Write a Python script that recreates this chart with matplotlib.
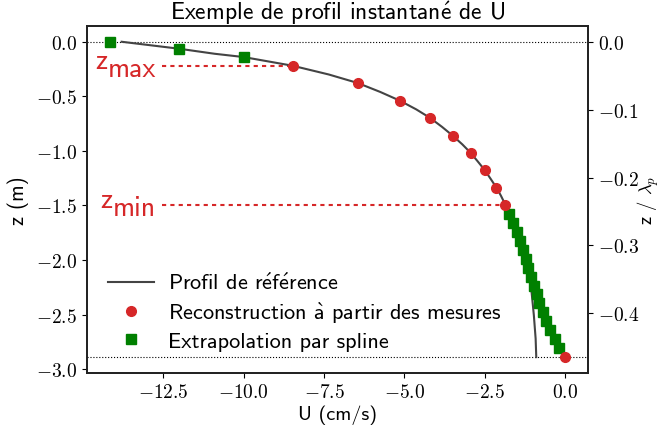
import numpy as np
import matplotlib
matplotlib.use('Agg')
import matplotlib.pyplot as plt
from matplotlib.ticker import FuncFormatter, MultipleLocator

plt.rcParams['font.family'] = ['cmss10', 'DejaVu Sans']
plt.rcParams['mathtext.fontset'] = 'cm'
plt.rcParams['axes.unicode_minus'] = True

# profil de reference
z_ref = [0.0, -0.064, -0.11, -0.14, -0.22, -0.30, -0.378, -0.46, -0.54, -0.62, -0.698,
         -0.78, -0.86, -0.94, -1.018, -1.10, -1.177, -1.26, -1.336, -1.41, -1.494,
         -1.65, -1.8, -1.95, -2.1, -2.263, -2.507, -2.72, -2.89]
u_ref = [-13.79, -12.0, -10.9, -10.0, -8.47, -7.35, -6.45, -5.75, -5.14, -4.63, -4.20,
         -3.83, -3.50, -3.20, -2.94, -2.71, -2.50, -2.31, -2.14, -2.00, -1.86,
         -1.62, -1.43, -1.29, -1.17, -1.056, -0.975, -0.92, -0.90]

# reconstruction a partir des mesures
z_rec = [-0.220, -0.378, -0.540, -0.698, -0.860, -1.018, -1.177, -1.336, -1.494, -2.891]
u_rec = [-8.47, -6.45, -5.14, -4.20, -3.50, -2.94, -2.50, -2.14, -1.86, 0.0]

# extrapolation par spline
z_spl = [0.0, -0.066, -0.143,
         -1.576, -1.658, -1.741, -1.823, -1.905, -1.987, -2.069, -2.152,
         -2.234, -2.316, -2.398, -2.480, -2.563, -2.645, -2.727, -2.809]
u_spl = [-14.16, -12.01, -9.98,
         -1.74, -1.61, -1.51, -1.41, -1.32, -1.23, -1.15, -1.07,
         -0.975, -0.89, -0.80, -0.70, -0.59, -0.46, -0.32, -0.18]

z_max = z_rec[0]
z_min = z_rec[8]
u_label = -12.55
lambda_p = 6.22

RED = '#d62728'
GREEN = 'green'

# accents drawn with mathtext so they stay in the sans CM font
E_ACUTE = r'$\mathsf{\acute{e}}$'
A_GRAVE = r'$\mathsf{\grave{a}}$'


def fmt(v, pos):
    if abs(v) < 1e-9:
        v = 0.0
    return r'$%.1f$' % v


fig = plt.figure(figsize=(6.6, 4.27), dpi=100)
ax = fig.add_axes([0.1318, 0.1241, 0.7591, 0.8127])

ax.plot(u_ref, z_ref, color='#444444', lw=1.5,
        label='Profil de r' + E_ACUTE + 'f' + E_ACUTE + 'rence', zorder=2)
ax.plot(u_spl, z_spl, 's', color=GREEN, ms=6.5, label='Extrapolation par spline', zorder=3)
ax.plot(u_rec, z_rec, 'o', color=RED, ms=7,
        label='Reconstruction ' + A_GRAVE + ' partir des mesures', zorder=4)

ax.axhline(0.0, color='black', ls=':', lw=0.8, zorder=1)
ax.axhline(z_rec[-1], color='black', ls=':', lw=0.8, zorder=1)

for zz, uu, sub in [(z_max, u_rec[0], 'max'), (z_min, u_rec[8], 'min')]:
    ax.plot([u_label, uu], [zz, zz], color=RED, lw=1.5, ls=(0, (2, 2)), zorder=1)
    t = ax.annotate(sub, xy=(u_label, zz), xytext=(-4.3, -7.6), textcoords='offset points',
                    ha='right', va='baseline', color=RED, fontsize=20)
    ax.annotate('z', xy=(0, zz), xycoords=(t, 'data'), xytext=(-0.3, 4.1),
                textcoords='offset points', ha='right', va='center', color=RED, fontsize=20)

ax.xaxis.set_major_locator(MultipleLocator(2.5))
ax.xaxis.set_major_formatter(FuncFormatter(fmt))
ax.yaxis.set_major_formatter(FuncFormatter(fmt))
ax.tick_params(labelsize=14)
ax.set_xlabel('U (cm/s)', fontsize=14.5, labelpad=3)
ax.set_ylabel('z (m)', fontsize=15)
ax.yaxis.set_label_coords(-0.115, 0.5)
ax.set_title('Exemple de profil instantan' + E_ACUTE + ' de U', fontsize=17, pad=3)

handles, labels = ax.get_legend_handles_labels()
order = [0, 2, 1]
ax.legend([handles[i] for i in order], [labels[i] for i in order], loc='lower left',
          frameon=False, fontsize=16, numpoints=1, handlelength=2.05, handletextpad=0.65,
          labelspacing=0.3, bbox_to_anchor=(0.003, 0.005))

ax2 = ax.twinx()
ax2.set_ylim(np.array(ax.get_ylim()) / lambda_p)
ax2.yaxis.set_major_formatter(FuncFormatter(fmt))
ax2.tick_params(labelsize=14)
ax2.set_ylabel(r'z / $\lambda_p$', fontsize=13.5)
ax2.yaxis.set_label_coords(1.095, 0.5)

for a in (ax, ax2):
    for s in a.spines.values():
        s.set_linewidth(1.3)
        s.set_color('#222222')

fig.savefig('out.png', dpi=100)
